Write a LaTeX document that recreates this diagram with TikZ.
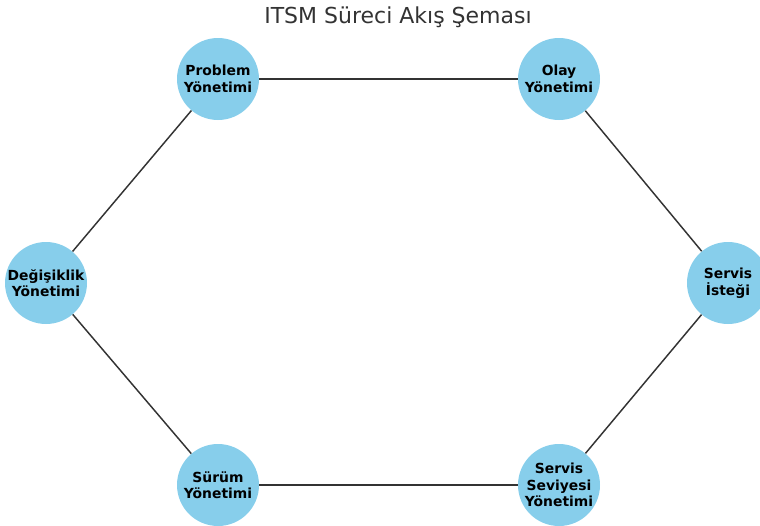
\documentclass[tikz,border=0pt]{standalone}
\usepackage{fontspec}
\setmainfont{DejaVu Sans}
\definecolor{skyblue}{HTML}{87CEEB}
\definecolor{edgegray}{HTML}{333333}
\tikzset{
  proc/.style={circle,fill=skyblue,minimum size=61.5pt,inner sep=0pt,align=center,
    font=\fontsize{10.4}{12.4}\selectfont\bfseries,text=black},
  link/.style={draw=edgegray,line width=1.1pt}
}
\begin{document}
\begin{tikzpicture}[x=0.75pt,y=-0.75pt]
\useasboundingbox (0,0) rectangle (760,525);
\clip (0,0) rectangle (760,525);
\node[font=\fontsize{16.5}{19}\selectfont,text=edgegray] (title) at (398,17) {ITSM Süreci Akış Şeması};
\node[proc] (olay) at (559,79) {Olay\\Yönetimi};
\node[proc] (problem) at (218,79) {Problem\\Yönetimi};
\node[proc] (degisiklik) at (46,283) {Değişiklik\\Yönetimi};
\node[proc] (surum) at (218,485) {Sürüm\\Yönetimi};
\node[proc] (seviye) at (559,485) {Servis\\Seviyesi\\Yönetimi};
\node[proc] (istek) at (728,283) {Servis\\İsteği};
\draw[link] (problem) -- (olay);
\draw[link] (olay) -- (istek);
\draw[link] (istek) -- (seviye);
\draw[link] (seviye) -- (surum);
\draw[link] (surum) -- (degisiklik);
\draw[link] (degisiklik) -- (problem);
\end{tikzpicture}
\end{document}
